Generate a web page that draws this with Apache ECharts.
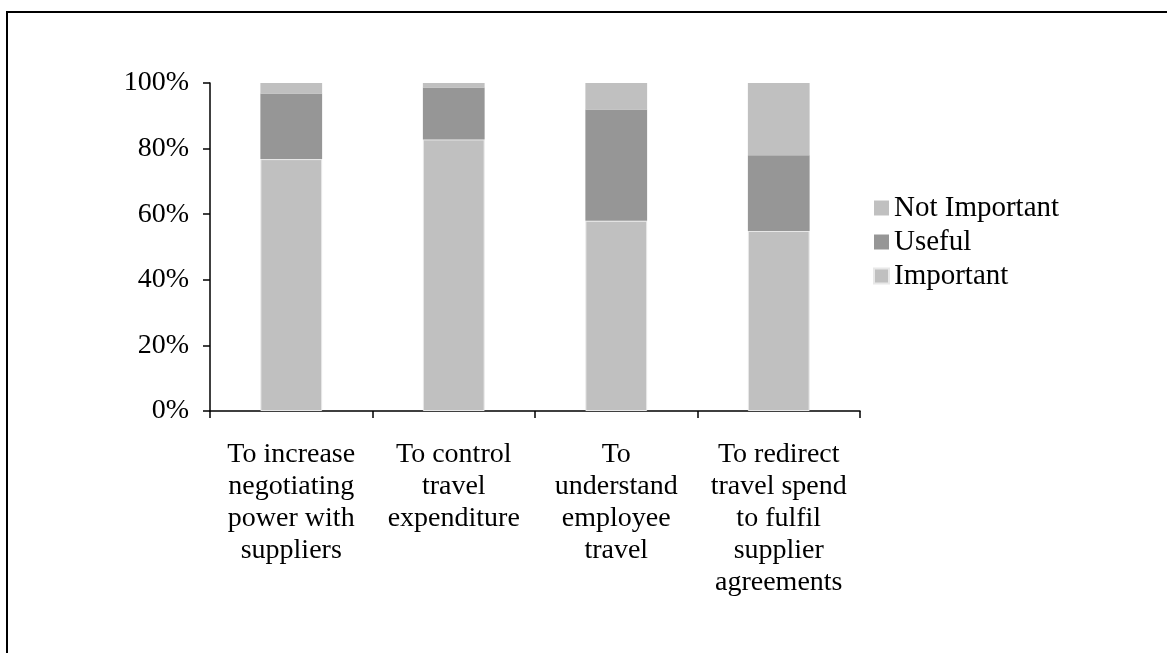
<!DOCTYPE html>
<html>
<head>
<meta charset="utf-8">
<script src="https://cdn.jsdelivr.net/npm/echarts@6/dist/echarts.min.js"></script>
<style>html,body{margin:0;padding:0;background:#fff}#c{width:1167px;height:653px}</style>
</head>
<body>
<div id="c"></div>
<script>
const categories = [
  "To increase\nnegotiating\npower with\nsuppliers",
  "To control\ntravel\nexpenditure",
  "To\nunderstand\nemployee\ntravel",
  "To redirect\ntravel spend\nto fulfil\nsupplier\nagreements"
];
const important = [76.8, 82.8, 58.0, 54.9];
const useful = [20.0, 15.8, 33.9, 23.1];
const notImportant = [3.2, 1.4, 8.1, 22.0];
const yTicks = [0, 20, 40, 60, 80, 100];

const font = "'Liberation Serif', 'Times New Roman', serif";
const chart = echarts.init(document.getElementById('c'), null, {renderer: 'canvas'});
chart.setOption({
  animation: false,
  backgroundColor: '#fff',
  graphic: [{
    type: 'rect', silent: true,
    shape: {x: 7, y: 12, width: 1220, height: 720},
    style: {fill: 'none', stroke: '#000', lineWidth: 2}
  }],
  grid: {left: 210, top: 83, width: 650, height: 328, containLabel: false},
  legend: {
    orient: 'vertical', left: 868, top: 186,
    itemWidth: 15, itemHeight: 15, itemGap: 0,
    icon: 'rect',
    data: ['Not Important', 'Useful', 'Important'],
    textStyle: {fontFamily: font, fontSize: 29, lineHeight: 34, color: '#000'}
  },
  xAxis: {
    type: 'category', data: categories,
    axisLine: {lineStyle: {color: '#000', width: 1.5}},
    axisTick: {show: true, length: 7, lineStyle: {color: '#000', width: 1.5}},
    axisLabel: {fontFamily: font, fontSize: 28, color: '#000', margin: 28, lineHeight: 32, interval: 0, align: 'center'}
  },
  yAxis: {
    type: 'value', min: yTicks[0], max: yTicks[yTicks.length - 1], interval: 20,
    splitLine: {show: false},
    axisLine: {show: true, lineStyle: {color: '#000', width: 1.5}},
    axisTick: {show: true, length: 7, lineStyle: {color: '#000', width: 1.5}},
    axisLabel: {fontFamily: font, fontSize: 28, color: '#000', margin: 21, formatter: v => v + '%'}
  },
  series: [
    {name: 'Important', type: 'bar', stack: 's', data: important, barWidth: '38%',
     itemStyle: {color: '#c0c0c0', borderColor: '#e8e8e8', borderWidth: 1}},
    {name: 'Useful', type: 'bar', stack: 's', data: useful,
     itemStyle: {color: '#969696'}},
    {name: 'Not Important', type: 'bar', stack: 's', data: notImportant,
     itemStyle: {color: '#c0c0c0'}}
  ]
});
</script>
</body>
</html>
